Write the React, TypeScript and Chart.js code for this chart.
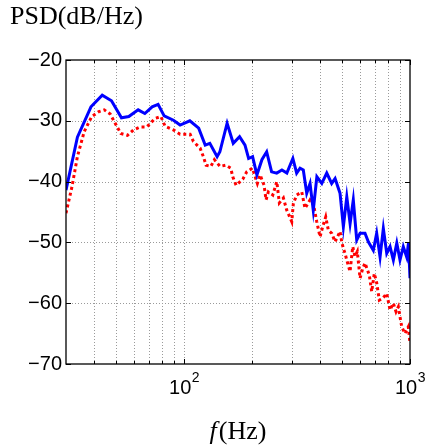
import React, { useEffect, useRef } from 'react';
import { Chart, registerables } from 'chart.js';

Chart.register(...registerables);

// ---- data ----
const blueFreq = [30, 33.7, 38.7, 43.4, 47.7, 52.8, 56.9, 62.6, 67.0, 72.2, 76.7, 81.6, 89.7, 96.0, 106, 116, 124, 130, 140, 144, 155, 165, 176, 186, 193, 201, 210, 221, 232, 244, 257, 271, 285, 303, 315, 326, 337, 349, 361, 373, 387, 407, 428, 450, 466, 490, 507, 525, 543, 561, 581, 601, 632, 654, 688, 712, 737, 762, 789, 816, 844, 874, 903, 934, 967, 985, 1000];
const blueDb = [-41.4, -32.7, -27.7, -25.8, -26.7, -29.5, -29.3, -28.2, -28.8, -27.7, -27.3, -29.2, -29.9, -30.7, -30.0, -31.2, -34.0, -33.7, -35.9, -35.1, -30.4, -33.7, -32.6, -34.0, -36.2, -35.9, -38.9, -36.4, -35.1, -38.4, -38.6, -38.1, -38.6, -36.2, -38.6, -37.8, -38.1, -41.9, -40.3, -44.7, -39.2, -40.3, -38.6, -40.3, -39.5, -41.9, -47.4, -42.5, -46.9, -43.0, -49.6, -48.5, -48.5, -49.9, -51.3, -48.5, -52.4, -47.7, -51.8, -50.7, -52.9, -50.1, -52.9, -50.7, -52.4, -50.1, -55.9];

const redFreq = [30, 31.9, 33.7, 36.1, 39, 41.9, 44.3, 47.1, 50, 52.5, 56.1, 59.7, 63.9, 68.4, 74.4, 78.9, 82.4, 89.7, 96, 106.3, 109.9, 117.7, 121.7, 125.1, 131.3, 136.2, 144.3, 152.9, 160.9, 164.2, 169.9, 181.9, 189.4, 200.5, 211, 217, 225.9, 230.6, 236, 246.9, 257.2, 264, 275.1, 284.7, 299.6, 304.5, 315.1, 331.7, 343.1, 361.1, 373.4, 386.6, 399.7, 410.9, 423.6, 435, 450.4, 465.8, 490, 498.5, 507, 515.8, 524.8, 542.7, 557.9, 571, 584.6, 600.9, 617.6, 632.3, 660.6, 676.9, 695.1, 712.4, 731.5, 757.3, 788.8, 815.8, 843.7, 867.3, 887.8, 919.2, 950.6, 983, 1000];
const redDb = [-45.2, -40.8, -35.9, -31.8, -29.3, -28.5, -28.2, -28.9, -30.7, -32.1, -32.4, -31.5, -31.0, -31.0, -29.6, -29.3, -30.9, -31.5, -32.2, -32.2, -33.4, -34.5, -35.9, -37.3, -37.5, -36.4, -37.5, -37.3, -37.8, -39.2, -40.6, -39.6, -38.4, -37.8, -40.3, -38.9, -40.6, -43.0, -41.7, -42.2, -40.0, -43.5, -42.7, -44.7, -46.6, -43.6, -42.2, -41.7, -44.4, -43.0, -43.6, -46.6, -49.1, -47.4, -45.8, -48.0, -48.5, -49.9, -48.2, -49.9, -51.0, -51.8, -52.9, -54.8, -50.7, -52.3, -51.5, -55.9, -54.3, -53.4, -55.4, -58.1, -55.1, -56.7, -59.5, -59.2, -58.4, -61.1, -60.0, -61.4, -60.6, -63.9, -65.0, -63.9, -66.6];

const yTicks = [-70, -60, -50, -40, -30, -20];
const xMinorTicks = [40, 50, 60, 70, 80, 90, 200, 300, 400, 500, 600, 700, 800, 900];
const xMajorTicks = [100, 1000];
const xMajorExponents = ['2', '3'];
const xMin = 30;
const xMax = 1000;
const yMin = -70;
const yMax = -20;
const titleText = 'PSD(dB/Hz)';
const xLabelItalic = 'f';
const xLabelRest = '(Hz)';

const SANS = '"Liberation Sans", Arial, sans-serif';
const SERIF = '"Liberation Serif", "Times New Roman", serif';

const decorPlugin = {
  id: 'decor',
  beforeDatasetsDraw(chart: any) {
    const { ctx, chartArea: a, scales } = chart;
    const x = scales.x, y = scales.y;
    ctx.save();
    ctx.strokeStyle = '#9a9a9a';
    ctx.lineWidth = 1;
    ctx.setLineDash([1, 2]);
    for (const v of [...xMinorTicks, ...xMajorTicks]) {
      const px = Math.round(x.getPixelForValue(v)) + 0.5;
      if (px <= a.left + 1 || px >= a.right - 1) continue;
      ctx.beginPath();
      ctx.moveTo(px, a.top);
      ctx.lineTo(px, a.bottom);
      ctx.stroke();
    }
    for (const v of yTicks) {
      const py = Math.round(y.getPixelForValue(v)) + 0.5;
      if (py <= a.top + 1 || py >= a.bottom - 1) continue;
      ctx.beginPath();
      ctx.moveTo(a.left, py);
      ctx.lineTo(a.right, py);
      ctx.stroke();
    }
    ctx.restore();
  },
  afterDraw(chart: any) {
    const { ctx, chartArea: a, scales } = chart;
    const x = scales.x, y = scales.y;
    ctx.save();
    ctx.setLineDash([]);
    ctx.strokeStyle = '#000';
    ctx.lineWidth = 1.3;
    // box
    ctx.strokeRect(a.left, a.top, a.right - a.left, a.bottom - a.top);
    // inward ticks
    ctx.lineWidth = 1;
    ctx.beginPath();
    for (const v of yTicks) {
      const py = Math.round(y.getPixelForValue(v)) + 0.5;
      ctx.moveTo(a.left, py); ctx.lineTo(a.left + 5, py);
      ctx.moveTo(a.right, py); ctx.lineTo(a.right - 5, py);
    }
    for (const v of xMajorTicks) {
      const px = Math.round(x.getPixelForValue(v)) + 0.5;
      ctx.moveTo(px, a.bottom); ctx.lineTo(px, a.bottom - 5);
      ctx.moveTo(px, a.top); ctx.lineTo(px, a.top + 5);
    }
    for (const v of xMinorTicks) {
      const px = Math.round(x.getPixelForValue(v)) + 0.5;
      ctx.moveTo(px, a.bottom); ctx.lineTo(px, a.bottom - 3);
      ctx.moveTo(px, a.top); ctx.lineTo(px, a.top + 3);
    }
    ctx.stroke();

    // x tick labels 10^n
    ctx.fillStyle = '#000';
    ctx.textBaseline = 'alphabetic';
    ctx.textAlign = 'left';
    xMajorTicks.forEach((v, i) => {
      const px = x.getPixelForValue(v);
      ctx.font = `20px ${SANS}`;
      const wBase = ctx.measureText('10').width;
      ctx.font = `14px ${SANS}`;
      const wExp = ctx.measureText(xMajorExponents[i]).width;
      const start = px - (wBase + wExp) / 2;
      ctx.font = `20px ${SANS}`;
      ctx.fillText('10', start, a.bottom + 30);
      ctx.font = `14px ${SANS}`;
      ctx.fillText(xMajorExponents[i], start + wBase + 0.5, a.bottom + 18);
    });

    // title
    ctx.font = `26px ${SERIF}`;
    ctx.fillText(titleText, 10, 24);

    // x axis label
    ctx.font = `italic 26px ${SERIF}`;
    const wI = ctx.measureText(xLabelItalic).width;
    ctx.font = `26px ${SERIF}`;
    const wR = ctx.measureText(xLabelRest).width;
    const cx = (a.left + a.right) / 2;
    const sx = cx - (wI + wR + 2) / 2;
    ctx.font = `italic 26px ${SERIF}`;
    ctx.fillText(xLabelItalic, sx, 439);
    ctx.font = `26px ${SERIF}`;
    ctx.fillText(xLabelRest, sx + wI + 2, 439);
    ctx.restore();
  },
};

export default function App() {
  const ref = useRef<HTMLCanvasElement | null>(null);
  useEffect(() => {
    if (!ref.current) return;
    const chart = new Chart(ref.current, {
      type: 'line',
      data: {
        datasets: [
          {
            label: 'blue',
            data: blueFreq.map((f, i) => ({ x: f, y: blueDb[i] })),
            borderColor: '#0000ff',
            borderWidth: 3,
            pointRadius: 0,
            tension: 0,
            fill: false,
          },
          {
            label: 'red',
            data: redFreq.map((f, i) => ({ x: f, y: redDb[i] })),
            borderColor: '#ff0000',
            borderWidth: 3,
            borderDash: [3, 3],
            pointRadius: 0,
            tension: 0,
            fill: false,
          },
        ],
      },
      options: {
        animation: false,
        responsive: false,
        events: [],
        layout: { padding: { top: 60, right: 17, left: 0, bottom: 0 } },
        plugins: { legend: { display: false }, tooltip: { enabled: false }, title: { display: false } },
        scales: {
          x: {
            type: 'logarithmic',
            min: xMin,
            max: xMax,
            grid: { display: false },
            border: { display: false },
            ticks: { display: false },
            afterFit: (s: any) => { s.height = 83; },
          },
          y: {
            type: 'linear',
            min: yMin,
            max: yMax,
            grid: { display: false, drawTicks: false },
            border: { display: false },
            ticks: {
              stepSize: 10,
              padding: 4,
              color: '#000',
              font: { family: SANS, size: 20 },
              callback: (v: any) => (Number(v) < 0 ? '\u2212' + Math.abs(Number(v)) : String(v)),
            },
            afterFit: (s: any) => { s.width = 66; },
          },
        },
      },
      plugins: [decorPlugin],
    } as any);
    return () => chart.destroy();
  }, []);
  return (
    <div style={{ position: 'fixed', left: 0, top: 0, width: 427, height: 447, background: '#fff' }}>
      <canvas ref={ref} width={427} height={447} style={{ display: 'block' }} />
    </div>
  );
}
